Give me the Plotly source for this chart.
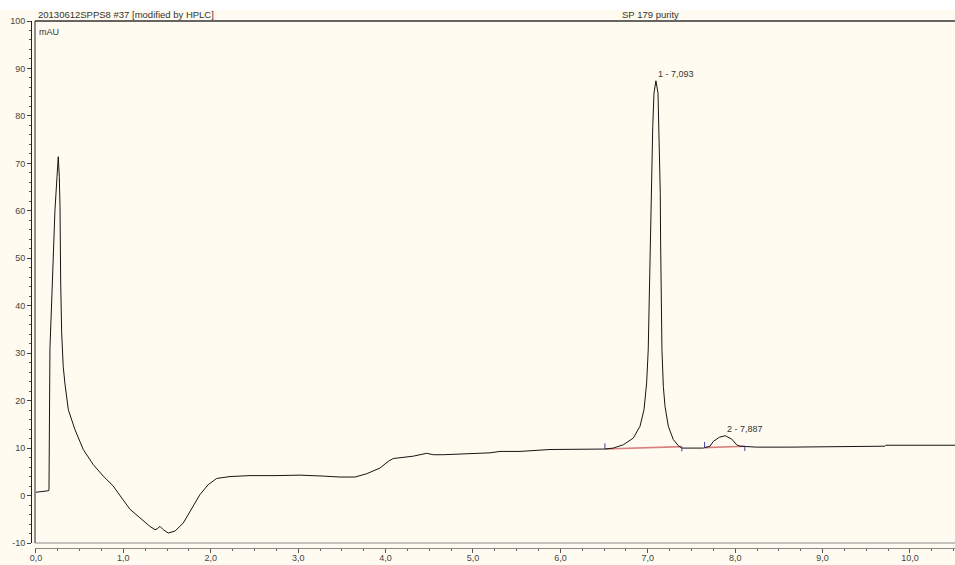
import numpy as np
import plotly.graph_objects as go

# Chromatogram trace: retention time (min) and detector signal (mAU)
time_min = [
    0.000, 0.069, 0.137, 0.149, 0.154, 0.160, 0.183, 0.195, 0.217, 0.240,
    0.255, 0.267, 0.275, 0.283, 0.294, 0.312, 0.332, 0.370, 0.446, 0.541,
    0.656, 0.770, 0.884, 0.981, 1.076, 1.190, 1.304, 1.362, 1.388, 1.419,
    1.457, 1.514, 1.590, 1.685, 1.781, 1.876, 1.971, 2.068, 2.220, 2.449,
    2.735, 3.021, 3.287, 3.478, 3.650, 3.784, 3.936, 4.031, 4.088, 4.317,
    4.470, 4.546, 4.660, 4.966, 5.195, 5.309, 5.538, 5.881, 6.224, 6.453,
    6.510, 6.605, 6.720, 6.834, 6.911, 6.957, 6.987, 7.005, 7.017, 7.025,
    7.037, 7.045, 7.057, 7.071, 7.093, 7.117, 7.128, 7.136, 7.143, 7.147,
    7.154, 7.162, 7.178, 7.197, 7.235, 7.292, 7.350, 7.388, 7.483, 7.635,
    7.712, 7.749, 7.820, 7.887, 7.960, 8.017, 8.055, 8.246, 8.627, 9.714,
    9.725, 10.515,
]
signal_mau = [
    0.7, 0.8, 1.0, 1.1, 21.7, 31.0, 42.5, 50.0, 60.0, 67.0,
    71.4, 67.2, 60.9, 44.8, 34.3, 27.2, 23.5, 18.1, 13.9, 9.7,
    6.5, 4.1, 2.0, -0.5, -2.9, -4.7, -6.5, -7.2, -7.0, -6.5,
    -7.2, -7.9, -7.5, -5.8, -2.9, 0.2, 2.3, 3.6, 4.0, 4.2,
    4.2, 4.3, 4.1, 3.9, 3.9, 4.6, 5.8, 7.2, 7.8, 8.3,
    8.9, 8.6, 8.6, 8.8, 9.0, 9.3, 9.3, 9.7, 9.8, 9.8,
    9.8, 10.0, 10.7, 12.1, 14.6, 18.1, 23.7, 30.7, 41.3, 53.2,
    63.7, 70.7, 77.8, 84.8, 87.4, 84.8, 77.8, 70.7, 63.7, 53.2,
    41.3, 30.7, 23.0, 18.8, 14.6, 11.8, 10.5, 10.0, 10.0, 10.0,
    10.4, 11.4, 12.3, 12.6, 11.9, 10.7, 10.4, 10.2, 10.2, 10.4,
    10.6, 10.6,
]

# Integrated peaks
peak_ids = [1, 2]
peak_rt = [7.093, 7.887]
peak_start = [6.51, 7.65]
peak_end = [7.39, 8.11]
base_start = [9.8, 10.1]
base_end = [10.3, 10.4]

y_ticks = list(range(-10, 101, 10))

FONT = "Liberation Sans, Arial, sans-serif"
CREAM = "#FFFBF0"
TEXT = "#333333"

fig = go.Figure()

# Baselines under the integrated peaks
bx, by = [], []
for s, e, b0, b1 in zip(peak_start, peak_end, base_start, base_end):
    bx += [s, e, None]
    by += [b0, b1, None]
fig.add_trace(go.Scatter(x=bx, y=by, mode="lines",
                         line=dict(color="#D98080", width=1.6),
                         hoverinfo="skip", showlegend=False))

# Signal
fig.add_trace(go.Scatter(x=time_min, y=signal_mau, mode="lines",
                         line=dict(color="#151515", width=1),
                         showlegend=False))

# Peak start / end delimiters
dx, dy = [], []
for s, e, b0, b1 in zip(peak_start, peak_end, base_start, base_end):
    dx += [s, s, None, e, e, None]
    dy += [b0, b0 + 1.2, None, b1, b1 - 1.0, None]
fig.add_trace(go.Scatter(x=dx, y=dy, mode="lines",
                         line=dict(color="#4040A8", width=1),
                         hoverinfo="skip", showlegend=False))

# Peak labels at the apex of each peak
for pid, rt in zip(peak_ids, peak_rt):
    apex = float(np.interp(rt, time_min, signal_mau))
    fig.add_annotation(x=rt, y=apex, xref="x", yref="y",
                       text=f"{pid} - {rt:.3f}".replace(".", ","),
                       showarrow=False, xanchor="left", yanchor="bottom",
                       yshift=0, font=dict(family=FONT, size=9, color=TEXT))

W, H = 955, 565
ml, mr, mt, mb = 31, 0, 21, 17
pw, ph = W - ml - mr, H - mt - mb

# Header band
fig.add_shape(type="rect", xref="paper", yref="paper",
              x0=-ml / pw, x1=1, y0=1 + (mt - 10) / ph, y1=1 + mt / ph,
              fillcolor="white", line=dict(width=0), layer="below")

fig.add_annotation(xref="paper", yref="paper", x=(36 - ml) / pw,
                   y=1 + (mt - 14) / ph, xanchor="left", yanchor="middle",
                   text="20130612SPPS8 #37 [modified by HPLC]", showarrow=False,
                   font=dict(family=FONT, size=9.5, color=TEXT))
fig.add_annotation(xref="paper", yref="paper", x=(620 - ml) / pw,
                   y=1 + (mt - 14) / ph, xanchor="left", yanchor="middle",
                   text="SP 179 purity", showarrow=False,
                   font=dict(family=FONT, size=9.5, color=TEXT))
fig.add_annotation(xref="paper", yref="paper", x=(37 - ml) / pw,
                   y=1 - (32 - mt) / ph, xanchor="left", yanchor="middle",
                   text="mAU", showarrow=False,
                   font=dict(family=FONT, size=9, color=TEXT))

# Plot frame (left, top, bottom)
fig.add_shape(type="line", xref="x domain", yref="y domain",
              x0=0, x1=0, y0=0, y1=1, line=dict(color="#222222", width=1))
fig.add_shape(type="line", xref="x domain", yref="y domain",
              x0=0, x1=1, y0=1, y1=1, line=dict(color="#333333", width=1.4))
fig.add_shape(type="line", xref="x domain", yref="y domain",
              x0=0, x1=1, y0=0, y1=0, line=dict(color="#8A8A8A", width=1))

fig.update_layout(
    width=W, height=H,
    margin=dict(l=ml, r=mr, t=mt, b=mb, pad=0),
    paper_bgcolor=CREAM, plot_bgcolor=CREAM,
    separators=",.",
    font=dict(family=FONT, size=9, color="#444444"),
    xaxis=dict(
        domain=[4 / pw, 1], range=[-0.011, 10.515],
        anchor="free", position=0,
        showline=True, linecolor="#8A8A8A", linewidth=1,
        ticks="outside", ticklen=4, tickcolor="#555555",
        tick0=0, dtick=1, tickformat=".1f",
        ticklabelstandoff=-3,
        minor=dict(ticks="outside", dtick=0.25, ticklen=2, tickcolor="#666666"),
        showgrid=False, zeroline=False,
        tickfont=dict(family=FONT, size=9, color="#444444"),
    ),
    yaxis=dict(
        domain=[5 / ph, 1], range=[-10, 100],
        anchor="free", position=0,
        showline=True, linecolor="#222222", linewidth=1,
        ticks="outside", ticklen=4, tickcolor="#444444",
        tickvals=y_ticks, ticktext=[str(v) for v in y_ticks],
        minor=dict(ticks="outside", dtick=2, ticklen=2, tickcolor="#555555"),
        showgrid=False, zeroline=False,
        tickfont=dict(family=FONT, size=9, color="#444444"),
    ),
)

fig.write_html("out.html")
